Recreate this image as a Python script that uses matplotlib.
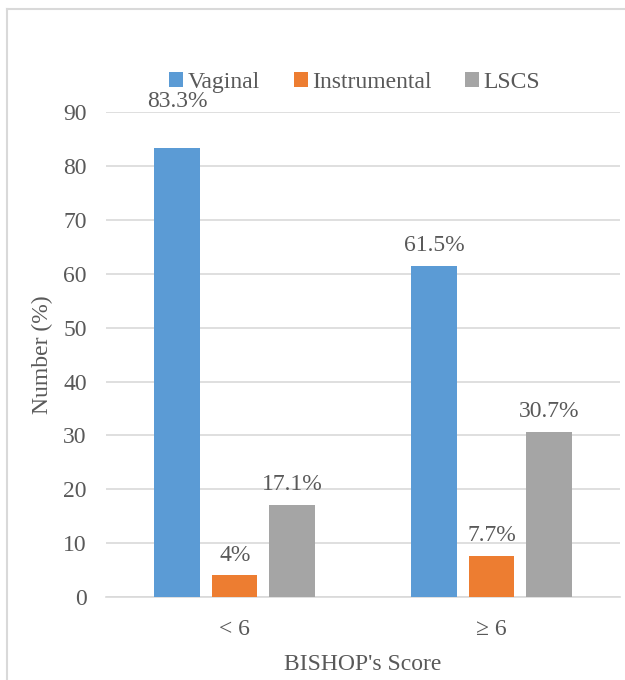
import numpy as np
import matplotlib.pyplot as plt

plt.rcParams['font.family'] = ['Liberation Serif', 'DejaVu Serif']

categories = ['< 6', '\u2265 6']
series = ['Vaginal', 'Instrumental', 'LSCS']
values = {
    'Vaginal': [83.3, 61.5],
    'Instrumental': [4, 7.7],
    'LSCS': [17.1, 30.7],
}
labels = {
    'Vaginal': ['83.3%', '61.5%'],
    'Instrumental': ['4%', '7.7%'],
    'LSCS': ['17.1%', '30.7%'],
}
colors = ['#5B9BD5', '#ED7D31', '#A5A5A5']
txt = '#595959'
fs = 17

fig = plt.figure(figsize=(6.25, 6.8), dpi=100)
# chart frame, open on the right and bottom
fig.add_artist(plt.Line2D([7/625, 7/625], [0, 1 - 9/680], transform=fig.transFigure,
                          color='#D9D9D9', linewidth=1.5))
fig.add_artist(plt.Line2D([7/625, 1], [1 - 9/680, 1 - 9/680], transform=fig.transFigure,
                          color='#D9D9D9', linewidth=1.5))
ax = fig.add_axes([0.170, 0.122, 0.822, 0.713])

x = np.arange(len(categories))
w = 0.177
step = 0.224
for i, (s, c) in enumerate(zip(series, colors)):
    pos = x + (i - 1) * step
    bars = ax.bar(pos, values[s], w, color=c, label=s, zorder=3)
    for b, lab in zip(bars, labels[s]):
        # the top label sits above the plot area, as in the original
        dy = 26 if b.get_height() > 80 else 7
        ax.annotate(lab, (b.get_x() + b.get_width()/2, b.get_height()),
                    xytext=(0, dy), textcoords='offset points', ha='center', va='bottom',
                    fontsize=fs, color=txt, annotation_clip=False)

ax.set_xlim(-0.5, 1.5)
ax.set_ylim(0, 90)
ax.set_yticks(range(0, 91, 10))
ax.set_xticks(x)
ax.set_xticklabels(categories)
ax.grid(axis='y', color='#D9D9D9', linewidth=1.2, zorder=0)
for sp in ['top', 'right', 'left']:
    ax.spines[sp].set_visible(False)
ax.spines['bottom'].set_color('#D9D9D9')
ax.spines['bottom'].set_linewidth(1.2)
ax.tick_params(length=0, labelsize=fs, labelcolor=txt)
ax.tick_params(axis='y', pad=14)
ax.tick_params(axis='x', pad=16)
ax.set_ylabel('Number (%)', fontsize=fs, color=txt, labelpad=7)
ax.set_xlabel("BISHOP's Score", fontsize=fs, color=txt, labelpad=10)

ax.legend(loc='center', bbox_to_anchor=(0.484, 1.062), ncol=3, frameon=False,
          fontsize=fs, labelcolor=txt, handlelength=0.6, handleheight=0.6,
          handletextpad=0.2, columnspacing=1.4)

fig.savefig('out.png', dpi=100)
